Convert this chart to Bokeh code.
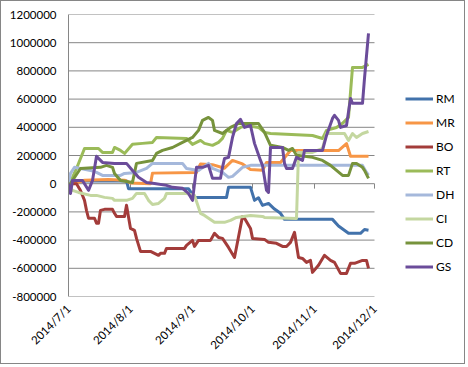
import math
import pandas as pd
from bokeh.plotting import figure
from bokeh.models import (Range1d, FixedTicker, NumeralTickFormatter, Legend,
                          LegendItem, ColumnDataSource)
from bokeh.embed import file_html
from bokeh.resources import INLINE

# ---------------- data ----------------
x_tick_labels = ["2014/7/1", "2014/8/1", "2014/9/1", "2014/10/1", "2014/11/1", "2014/12/1"]
y_ticks = [-800000, -600000, -400000, -200000, 0, 200000, 400000, 600000, 800000, 1000000, 1200000]

series_names = ["RM", "MR", "BO", "RT", "DH", "CI", "CD", "GS"]

rm_dates = ["2014-07-01", "2014-07-04", "2014-07-09", "2014-07-30", "2014-07-31", "2014-08-30",
            "2014-09-02", "2014-09-18", "2014-09-19", "2014-09-30", "2014-10-02", "2014-10-04",
            "2014-10-06", "2014-10-09", "2014-10-12", "2014-10-15", "2014-10-17", "2014-11-10",
            "2014-11-13", "2014-11-18", "2014-11-24", "2014-11-26", "2014-11-28"]
rm_values = [0, 10000, 20000, 20000, -35000, -35000,
             -97000, -97000, -26000, -26000, -118000, -100000,
             -154000, -140000, -180000, -210000, -253000, -253000,
             -300000, -352000, -352000, -325000, -330000]

mr_dates = ["2014-07-01", "2014-07-06", "2014-07-09", "2014-07-21", "2014-07-29", "2014-08-01",
            "2014-08-11", "2014-08-12", "2014-09-03", "2014-09-05", "2014-09-11", "2014-09-17",
            "2014-09-21", "2014-09-26", "2014-09-30", "2014-10-06", "2014-10-08", "2014-10-15",
            "2014-10-20", "2014-11-13", "2014-11-17", "2014-11-19", "2014-11-28"]
mr_values = [0, 10000, 25000, 30000, 25000, 5000,
             0, 75000, 80000, 140000, 135000, 110000,
             165000, 140000, 100000, 95000, 150000, 150000,
             235000, 235000, 285000, 195000, 195000]

bo_dates = ["2014-07-01", "2014-07-05", "2014-07-07", "2014-07-09", "2014-07-10", "2014-07-11",
            "2014-07-14", "2014-07-15", "2014-07-16", "2014-07-17", "2014-07-19", "2014-07-23",
            "2014-07-24", "2014-07-25", "2014-07-29", "2014-07-30", "2014-08-01", "2014-08-03",
            "2014-08-04", "2014-08-06", "2014-08-11", "2014-08-13", "2014-08-15", "2014-08-16",
            "2014-08-18", "2014-08-19", "2014-08-28", "2014-08-29", "2014-09-01", "2014-09-02",
            "2014-09-04", "2014-09-10", "2014-09-12", "2014-09-14", "2014-09-16", "2014-09-19",
            "2014-09-22", "2014-09-26", "2014-09-27", "2014-09-30", "2014-10-01", "2014-10-07",
            "2014-10-09", "2014-10-13", "2014-10-16", "2014-10-18", "2014-10-20", "2014-10-22",
            "2014-10-24", "2014-10-26", "2014-10-28", "2014-10-30", "2014-10-31", "2014-11-03",
            "2014-11-06", "2014-11-09", "2014-11-11", "2014-11-14", "2014-11-17", "2014-11-19",
            "2014-11-21", "2014-11-25", "2014-11-27", "2014-11-28"]
bo_values = [0, 0, -48000, -118000, -189000, -245000,
             -245000, -280000, -280000, -189000, -182000, -182000,
             -210000, -232000, -232000, -153000, -317000, -331000,
             -388000, -480000, -480000, -494000, -508000, -494000,
             -494000, -459000, -459000, -437000, -402000, -445000,
             -402000, -402000, -352000, -381000, -388000, -452000,
             -523000, -232000, -245000, -317000, -388000, -395000,
             -416000, -423000, -445000, -445000, -416000, -345000,
             -523000, -530000, -558000, -544000, -629000, -579000,
             -508000, -544000, -558000, -636000, -636000, -565000,
             -565000, -544000, -544000, -600000]

rt_dates = ["2014-07-01", "2014-07-05", "2014-07-09", "2014-07-16", "2014-07-18", "2014-07-23",
            "2014-07-24", "2014-07-27", "2014-07-29", "2014-08-02", "2014-08-07", "2014-08-12",
            "2014-08-14", "2014-08-29", "2014-09-01", "2014-09-05", "2014-09-07", "2014-09-11",
            "2014-09-14", "2014-09-16", "2014-09-18", "2014-09-21", "2014-09-25", "2014-09-28",
            "2014-10-04", "2014-10-07", "2014-10-10", "2014-10-31", "2014-11-05", "2014-11-07",
            "2014-11-12", "2014-11-15", "2014-11-18", "2014-11-20", "2014-11-25", "2014-11-28"]
rt_values = [-20000, 108000, 250000, 250000, 222000, 222000,
             257000, 236000, 215000, 279000, 286000, 293000,
             328000, 321000, 279000, 307000, 286000, 272000,
             293000, 321000, 378000, 364000, 399000, 413000,
             399000, 364000, 356000, 342000, 321000, 378000,
             399000, 428000, 470000, 825000, 825000, 846000]

dh_dates = ["2014-07-01", "2014-07-02", "2014-07-04", "2014-07-12", "2014-07-15", "2014-07-18",
            "2014-07-27", "2014-07-29", "2014-08-04", "2014-08-09", "2014-08-12", "2014-08-27",
            "2014-08-29", "2014-09-04", "2014-09-09", "2014-09-11", "2014-09-16", "2014-09-19",
            "2014-09-21", "2014-09-26", "2014-09-30", "2014-11-25", "2014-11-27", "2014-11-28"]
dh_values = [0, 73000, 116000, 94000, 80000, 59000,
             59000, 73000, 80000, 108000, 144000, 144000,
             108000, 94000, 144000, 108000, 80000, 45000,
             52000, 116000, 130000, 130000, 80000, 60000]

ci_dates = ["2014-07-01", "2014-07-03", "2014-07-06", "2014-07-12", "2014-07-15", "2014-07-19",
            "2014-07-23", "2014-07-24", "2014-07-30", "2014-08-02", "2014-08-04", "2014-08-08",
            "2014-08-10", "2014-08-12", "2014-08-15", "2014-08-18", "2014-08-19", "2014-08-29",
            "2014-09-02", "2014-09-05", "2014-09-07", "2014-09-12", "2014-09-17", "2014-09-20",
            "2014-09-23", "2014-09-30", "2014-10-06", "2014-10-07", "2014-10-23", "2014-10-24",
            "2014-10-31", "2014-11-05", "2014-11-07", "2014-11-16", "2014-11-18", "2014-11-20",
            "2014-11-22", "2014-11-25", "2014-11-28"]
ci_values = [-10000, -47000, -62000, -83000, -83000, -97000,
             -104000, -118000, -118000, -104000, -69000, -69000,
             -118000, -147000, -140000, -104000, -69000, -69000,
             -83000, -210000, -225000, -274000, -274000, -260000,
             -239000, -225000, -232000, -239000, -246000, 222000,
             222000, 250000, 356000, 356000, 307000, 356000,
             328000, 356000, 370000]

cd_dates = ["2014-07-01", "2014-07-07", "2014-07-17", "2014-07-20", "2014-07-23", "2014-07-24",
            "2014-07-27", "2014-08-02", "2014-08-04", "2014-08-12", "2014-08-14", "2014-08-17",
            "2014-08-22", "2014-08-27", "2014-09-01", "2014-09-04", "2014-09-06", "2014-09-09",
            "2014-09-11", "2014-09-12", "2014-09-16", "2014-09-20", "2014-09-24", "2014-10-04",
            "2014-10-07", "2014-10-10", "2014-10-16", "2014-10-19", "2014-10-21", "2014-10-23",
            "2014-10-31", "2014-11-05", "2014-11-09", "2014-11-12", "2014-11-15", "2014-11-18",
            "2014-11-20", "2014-11-22", "2014-11-25", "2014-11-26", "2014-11-28"]
cd_values = [-20000, 108000, 116000, 130000, 116000, 73000,
             23000, 9000, 144000, 165000, 215000, 236000,
             257000, 293000, 328000, 378000, 449000, 470000,
             449000, 378000, 356000, 399000, 427000, 427000,
             364000, 272000, 257000, 236000, 250000, 201000,
             187000, 165000, 130000, 94000, 59000, 59000,
             144000, 144000, 116000, 94000, 38000]

gs_dates = ["2014-07-01", "2014-07-02", "2014-07-03", "2014-07-08", "2014-07-11", "2014-07-13",
            "2014-07-15", "2014-07-18", "2014-07-24", "2014-07-30", "2014-08-02", "2014-08-05",
            "2014-08-09", "2014-08-13", "2014-08-19", "2014-08-22", "2014-08-27", "2014-08-30",
            "2014-09-01", "2014-09-03", "2014-09-06", "2014-09-09", "2014-09-11", "2014-09-15",
            "2014-09-16", "2014-09-17", "2014-09-19", "2014-09-21", "2014-09-23", "2014-09-25",
            "2014-09-27", "2014-09-30", "2014-10-02", "2014-10-05", "2014-10-06", "2014-10-08",
            "2014-10-09", "2014-10-10", "2014-10-16", "2014-10-17", "2014-10-18", "2014-10-21",
            "2014-10-23", "2014-10-26", "2014-10-27", "2014-11-05", "2014-11-07", "2014-11-10",
            "2014-11-11", "2014-11-13", "2014-11-14", "2014-11-17", "2014-11-19", "2014-11-20",
            "2014-11-25", "2014-11-26", "2014-11-28"]
gs_values = [0, -69000, 23000, 23000, -47000, 23000,
             194000, 151000, 144000, 144000, 94000, 45000,
             9000, 2000, -12000, -26000, -33000, -69000,
             -118000, 116000, 116000, 130000, 38000, 38000,
             116000, 179000, 187000, 328000, 427000, 456000,
             399000, 413000, 286000, 165000, 130000, -47000,
             -62000, 257000, 257000, 144000, 108000, 108000,
             187000, 165000, 236000, 236000, 342000, 463000,
             485000, 449000, 399000, 413000, 605000, 570000,
             570000, 747000, 1066000]

series_dates = [rm_dates, mr_dates, bo_dates, rt_dates, dh_dates, ci_dates, cd_dates, gs_dates]
series_values = [rm_values, mr_values, bo_values, rt_values, dh_values, ci_values, cd_values, gs_values]

# ---------------- style ----------------
colors = ["#4272AB", "#F79646", "#A33C3A", "#9BBB59", "#A5B8DB", "#C4D7A0", "#77933C", "#6B4C9A"]
GRID = "#868686"
FONT = "Lato"

tick_dt = pd.to_datetime(x_tick_labels, format="%Y/%m/%d")
tick_ms = [int(d.timestamp() * 1000) for d in tick_dt]

# plot frame spans the legend area too; the data area is 306 px wide, legend area 89 px
span_ms = tick_ms[-1] - tick_ms[0]
x_end = tick_ms[-1] + span_ms * 89 / 306

p = figure(width=465, height=364, x_axis_type="datetime",
           output_backend="svg", toolbar_location=None,
           x_range=Range1d(tick_ms[0], x_end),
           y_range=Range1d(y_ticks[0], y_ticks[-1]),
           min_border_left=67, min_border_right=3,
           min_border_top=13, min_border_bottom=69)
p.styles = {"border": "1px solid #868686"}
p.outline_line_color = None
p.background_fill_color = "white"
p.border_fill_color = "white"

# grid (only across the data area)
p.xgrid.grid_line_color = None
p.ygrid.grid_line_color = None
p.segment(x0=[tick_dt[0]] * len(y_ticks), x1=[tick_dt[-1]] * len(y_ticks),
          y0=y_ticks, y1=y_ticks, line_color=GRID, line_width=1)

# y axis
p.yaxis.ticker = FixedTicker(ticks=y_ticks)
p.yaxis.formatter = NumeralTickFormatter(format="0")
p.yaxis.axis_line_color = GRID
p.yaxis.major_tick_out = 0
p.yaxis.major_tick_in = 0
p.yaxis.minor_tick_line_color = None
p.yaxis.major_label_standoff = 12

# x axis
p.xaxis.ticker = FixedTicker(ticks=tick_ms)
p.xaxis.major_label_overrides = {ms: lab for ms, lab in zip(tick_ms, x_tick_labels)}
p.xaxis.axis_line_color = None
p.xaxis.major_tick_line_color = None
p.xaxis.minor_tick_line_color = None
p.xaxis.major_label_orientation = math.pi / 4
p.xaxis.major_label_standoff = 4

for ax in (p.xaxis, p.yaxis):
    ax.major_label_text_font = FONT
    ax.major_label_text_font_size = "11.5px"
    ax.major_label_text_color = "black"

# category axis tick marks at the zero crossing
p.segment(x0=tick_dt, y0=[0] * len(tick_dt), x1=tick_dt, y1=[-35000] * len(tick_dt),
          line_color=GRID, line_width=1)

items = []
for name, dates, vals, col in zip(series_names, series_dates, series_values, colors):
    src = ColumnDataSource(dict(x=pd.to_datetime(dates), y=vals))
    r = p.line("x", "y", source=src, line_color=col, line_width=3, line_join="round")
    items.append(LegendItem(label=name, renderers=[r]))

legend = Legend(items=items, location=(337, 19), glyph_width=28, glyph_height=21,
                label_height=21, spacing=3, padding=0, margin=0, label_standoff=3,
                border_line_color=None, background_fill_alpha=0,
                label_text_font=FONT, label_text_font_size="12px", label_text_color="black")
p.add_layout(legend)

open("out.html", "w").write(file_html(p, INLINE))
